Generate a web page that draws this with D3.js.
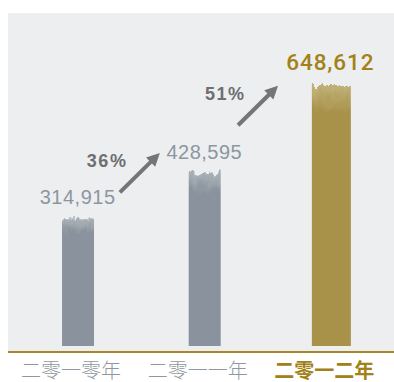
<!DOCTYPE html>
<html>
<head>
<meta charset="utf-8">
<script src="https://cdn.jsdelivr.net/npm/d3@7"></script>
<style>
  html, body { margin: 0; padding: 0; background: #ffffff; }
  svg { display: block; }
</style>
</head>
<body>
<svg id="chart" width="394" height="382"></svg>
<script>
// Annual figures
const years = ["二零一零年", "二零一一年", "二零一二年"];
const revenue = [314915, 428595, 648612];
const valueLabels = ["314,915", "428,595", "648,612"];
const growthLabels = ["36%", "51%"];

const W = 394, H = 382;
const svg = d3.select("#chart");

const colors = {
  panel: "#edeef0",
  bar: "#8a939d",
  barTop: "#aab1b8",
  gold: "#a8924a",
  goldTop: "#c2b27a",
  goldText: "#a28117",
  goldLine: "#a8872a",
  valueText: "#8c96a0",
  pctText: "#6e6f71",
  arrow: "#747576",
  axisText: "#8f98a1"
};

const x = d3.scaleBand().domain(years).range([14.7, 394.7]).padding(0);
const y = d3.scaleLinear().domain([0, d3.max(revenue)]).range([346, 85]);
const xc = d => x(d) + x.bandwidth() / 2;
const last = years.length - 1;

// Panel background
svg.append("rect")
  .attr("x", 8).attr("y", 13)
  .attr("width", W - 8).attr("height", 338)
  .attr("fill", colors.panel);

const defs = svg.append("defs");

// Rough, brushed top edge for the bars
const rough = defs.append("filter")
  .attr("id", "rough")
  .attr("filterUnits", "userSpaceOnUse")
  .attr("x", 0).attr("y", 0).attr("width", W).attr("height", H);
rough.append("feTurbulence")
  .attr("type", "fractalNoise")
  .attr("baseFrequency", "0.16 0.09")
  .attr("numOctaves", 3)
  .attr("seed", 7)
  .attr("result", "noise");
rough.append("feDisplacementMap")
  .attr("in", "SourceGraphic")
  .attr("in2", "noise")
  .attr("scale", 13)
  .attr("xChannelSelector", "R")
  .attr("yChannelSelector", "G");

// Vertical gradients: paler near the top of each bar
function gradient(id, top, base) {
  const g = defs.append("linearGradient")
    .attr("id", id).attr("x1", 0).attr("y1", 0).attr("x2", 0).attr("y2", 1);
  g.append("stop").attr("offset", "0%").attr("stop-color", top);
  g.append("stop").attr("offset", "10%").attr("stop-color", base);
  g.append("stop").attr("offset", "100%").attr("stop-color", base);
}
gradient("gGray", colors.barTop, colors.bar);
gradient("gGold", colors.goldTop, colors.gold);

// Bars
years.forEach((yr, i) => {
  const w = i === last ? 39 : 32;
  const bx = xc(yr) - w / 2;
  const top = y(revenue[i]);
  const bottom = y(0);
  const clipId = "clip" + i;
  defs.append("clipPath").attr("id", clipId)
    .append("rect")
    .attr("x", bx).attr("y", top - 14)
    .attr("width", w).attr("height", bottom - top + 14);
  const g = svg.append("g").attr("clip-path", `url(#${clipId})`);
  g.append("rect")
    .attr("x", bx - 8).attr("y", top)
    .attr("width", w + 16).attr("height", bottom - top + 12)
    .attr("fill", i === last ? "url(#gGold)" : "url(#gGray)")
    .attr("filter", "url(#rough)");
});

// Gold baseline
svg.append("line")
  .attr("x1", 8).attr("x2", W)
  .attr("y1", 352).attr("y2", 352)
  .attr("stroke", colors.goldLine)
  .attr("stroke-width", 2);

// Value labels
years.forEach((yr, i) => {
  const isLast = i === last;
  svg.append("text")
    .attr("x", isLast ? xc(yr) + 43 : xc(yr) + 37.5)
    .attr("y", y(revenue[i]) - 15)
    .attr("text-anchor", "end")
    .attr("font-family", isLast ? "Roboto, 'Liberation Sans', sans-serif" : "'Liberation Sans', Arial, sans-serif")
    .attr("font-size", isLast ? 22.5 : 20)
    .attr("font-weight", isLast ? 500 : 400)
    .attr("letter-spacing", isLast ? 0.9 : 0.5)
    .attr("fill", isLast ? colors.goldText : colors.valueText)
    .text(valueLabels[i]);
});

// Growth arrows and percentages between consecutive years
const arrowShift = [-1.5, -10];
growthLabels.forEach((lab, i) => {
  const mx = (xc(years[i]) + xc(years[i + 1])) / 2 + arrowShift[i];
  const my = (y(revenue[i]) + y(revenue[i + 1])) / 2 - 23.5;
  const x0 = mx - 20, y0 = my + 19.5, x1 = mx + 20, y1 = my - 20;
  const len = Math.hypot(x1 - x0, y1 - y0);
  const ux = (x1 - x0) / len, uy = (y1 - y0) / len;
  const nx = -uy, ny = ux;
  const headLen = 13, headHalf = 6.5;
  const bx = x1 - ux * headLen, by = y1 - uy * headLen;
  svg.append("line")
    .attr("x1", x0).attr("y1", y0)
    .attr("x2", bx + ux * 2).attr("y2", by + uy * 2)
    .attr("stroke", colors.arrow)
    .attr("stroke-width", 4);
  svg.append("path")
    .attr("d", `M${x1},${y1}L${bx + nx * headHalf},${by + ny * headHalf}L${bx - nx * headHalf},${by - ny * headHalf}Z`)
    .attr("fill", colors.arrow);
  svg.append("text")
    .attr("x", x0 - 33)
    .attr("y", y0 - 25.5)
    .attr("font-family", "'Liberation Sans', Arial, sans-serif")
    .attr("font-size", 18)
    .attr("font-weight", 700)
    .attr("letter-spacing", 1.5)
    .attr("fill", colors.pctText)
    .text(lab);
});

// Year labels along the baseline
svg.append("g")
  .selectAll("text")
  .data(years)
  .join("text")
  .attr("x", d => xc(d) - 7)
  .attr("y", 378)
  .attr("text-anchor", "middle")
  .attr("font-family", "'Noto Sans CJK SC', 'Noto Sans CJK TC', sans-serif")
  .attr("font-size", 20)
  .attr("font-weight", (d, i) => i === last ? 700 : 300)
  .attr("fill", (d, i) => i === last ? colors.goldText : colors.axisText)
  .text(d => d);
</script>
</body>
</html>
